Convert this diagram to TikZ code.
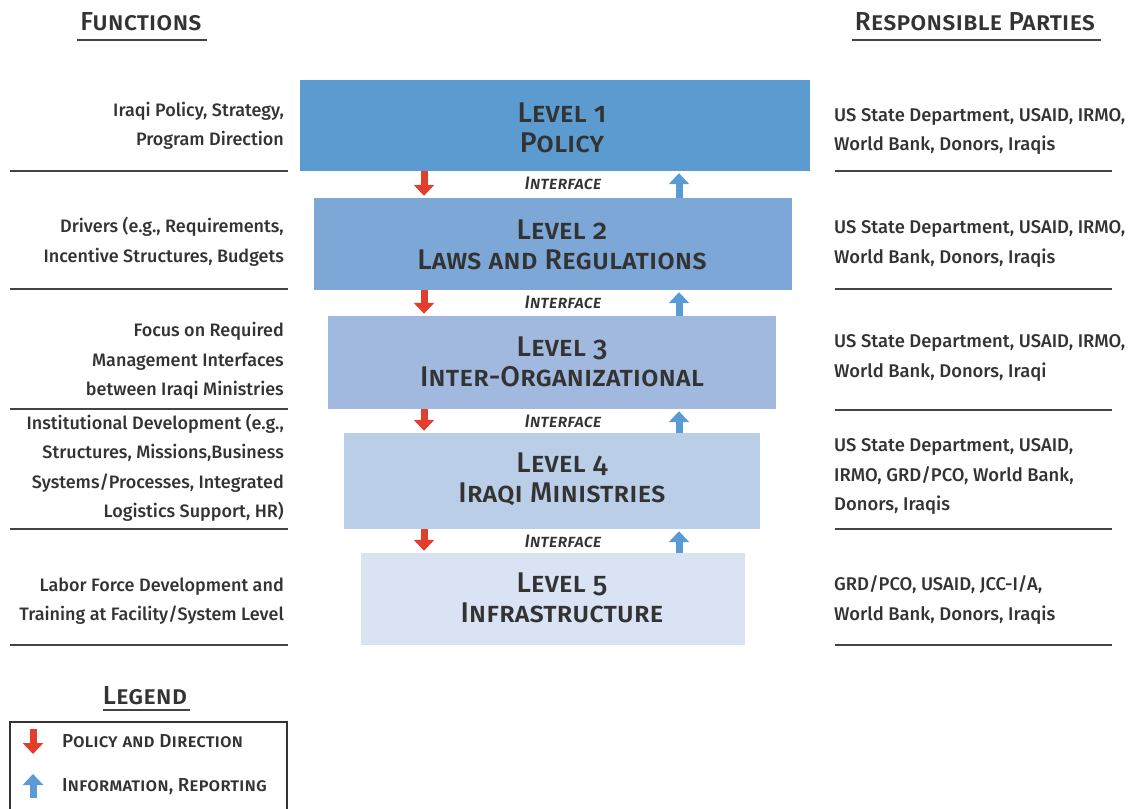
\documentclass[tikz,border=0pt]{standalone}
\usepackage{fontspec}
\setmainfont{Fira Sans}[Numbers=OldStyle, UprightFont=* Medium, ItalicFont=* Medium Italic]
\usetikzlibrary{arrows.meta}
\definecolor{ink}{HTML}{333333}
\definecolor{rulec}{HTML}{444444}
\definecolor{lvA}{HTML}{5B9BD0}
\definecolor{lvB}{HTML}{7DA7D7}
\definecolor{lvC}{HTML}{A1B8DF}
\definecolor{lvD}{HTML}{BBCEE8}
\definecolor{lvE}{HTML}{D9E3F3}
\definecolor{downred}{HTML}{E23D2D}
\definecolor{upblue}{HTML}{5B9BD5}
\tikzset{
  levelbox/.style={inner sep=0pt, text=ink, align=center,
    font=\fontsize{28.5}{30}\selectfont\scshape},
  fnote/.style={anchor=east, inner sep=0pt, text=ink, align=right,
    font=\fontsize{18}{29.5}\selectfont},
  pnote/.style={anchor=west, inner sep=0pt, text=ink, align=left,
    font=\fontsize{18.4}{29.5}\selectfont},
  iface/.style={inner sep=0pt, text=ink, font=\fontsize{18}{20}\selectfont\itshape\scshape},
  heading/.style={inner sep=0pt, text=ink, font=\fontsize{26}{28}\selectfont\scshape},
  hrule/.style={rulec, line width=2pt},
  headrule/.style={rulec, line width=2.5pt},
  downarrow/.style={downred, line width=7pt,
    -{Triangle[width=20pt,length=11pt]}, shorten >=2pt},
  uparrow/.style={upblue, line width=7pt,
    -{Triangle[width=20pt,length=11pt]}, shorten >=2pt},
  legtext/.style={anchor=west, inner sep=0pt, text=ink, font=\fontsize{18.8}{20}\selectfont\scshape},
}
\begin{document}
\begin{tikzpicture}[x=1pt,y=-1pt]
\useasboundingbox (0,0) rectangle (1131,808);

% column headings
\node[heading] (hf) at (141,22) {Functions};
\draw[headrule] (77,40) -- (207,40);
\node[heading] (hp) at (975,22) {Responsible Parties};
\draw[headrule] (852,40) -- (1101,40);

% the five levels
\fill[lvA] (300,80) rectangle (810,171);
\node[minimum width=510pt, minimum height=91pt, inner sep=0pt] (b1) at (555,125.5) {};
\node[levelbox] at (562,128) {Level 1\\Policy};

\fill[lvB] (314,198) rectangle (792,290);
\node[minimum width=478pt, minimum height=92pt, inner sep=0pt] (b2) at (553,244) {};
\node[levelbox] at (562,245) {Level 2\\Laws and Regulations};

\fill[lvC] (328,316) rectangle (776,409);
\node[minimum width=448pt, minimum height=93pt, inner sep=0pt] (b3) at (552,362.5) {};
\node[levelbox] at (562,361.5) {Level 3\\Inter-Organizational};

\fill[lvD] (344,433) rectangle (760,529);
\node[minimum width=416pt, minimum height=96pt, inner sep=0pt] (b4) at (552,481) {};
\node[levelbox] at (562,479) {Level 4\\Iraqi Ministries};

\fill[lvE] (361,553) rectangle (745,645);
\node[minimum width=384pt, minimum height=92pt, inner sep=0pt] (b5) at (553,599) {};
\node[levelbox] at (562,598) {Level 5\\Infrastructure};

% interfaces between levels
\node[iface] (i1) at (563,183) {Interface};
\node[iface] (i2) at (563,302) {Interface};
\node[iface] (i3) at (563,421) {Interface};
\node[iface] (i4) at (563,541) {Interface};

\coordinate (rx) at (424,0);
\coordinate (bx) at (679,0);
\foreach \a/\b in {b1/b2,b2/b3,b3/b4,b4/b5}{
  \draw[downarrow] (\a.south -| rx) -- (\b.north -| rx);
  \draw[uparrow] (\b.north -| bx) -- (\a.south -| bx);
}

% functions column
\node[fnote] (f1) at (284,126) {Iraqi Policy, Strategy,\\Program Direction};
\node[fnote] (f2) at (284,242) {Drivers (e.g., Requirements,\\Incentive Structures, Budgets};
\node[fnote] (f3) at (284,361) {Focus on Required\\Management Interfaces\\between Iraqi Ministries};
\node[fnote] (f4) at (284,468) {Institutional Development (e.g.,\\Structures, Missions,Business\\Systems/Processes, Integrated\\Logistics Support, HR)};
\node[fnote] (f5) at (284,601) {Labor Force Development and\\Training at Facility/System Level};
\foreach \y in {171,289,409,529,645}{\draw[hrule] (10,\y) -- (288,\y);}

% responsible parties column
\node[pnote] (p1) at (834,131.5) {US State Department, USAID, IRMO,\\World Bank, Donors, Iraqis};
\node[pnote] (p2) at (834,244) {US State Department, USAID, IRMO,\\World Bank, Donors, Iraqis};
\node[pnote] (p3) at (834,358) {US State Department, USAID, IRMO,\\World Bank, Donors, Iraqi};
\node[pnote] (p4) at (834,477) {US State Department, USAID,\\IRMO, GRD/PCO, World Bank,\\Donors, Iraqis};
\node[pnote] (p5) at (834,600) {GRD/PCO, USAID, JCC-I/A,\\World Bank, Donors, Iraqis};
\foreach \y in {171,289,410,529,645}{\draw[hrule] (835,\y) -- (1112,\y);}

% legend
\node[heading] (lg) at (145,696) {Legend};
\draw[headrule] (103,710) -- (190,710);
\draw[ink, line width=1.5pt] (10,810) -- (10,722) -- (287,722) -- (287,810);
\coordinate (l1a) at (33,729);
\coordinate (l1b) at (33,754);
\coordinate (l2a) at (33,798);
\coordinate (l2b) at (33,774);
\draw[downarrow, shorten >=0pt] (l1a) -- (l1b);
\draw[uparrow, shorten >=0pt] (l2a) -- (l2b);
\node[legtext] (lt1) at (62,741) {Policy and Direction};
\node[legtext] (lt2) at (62,787) {Information, Reporting};
\end{tikzpicture}
\end{document}
